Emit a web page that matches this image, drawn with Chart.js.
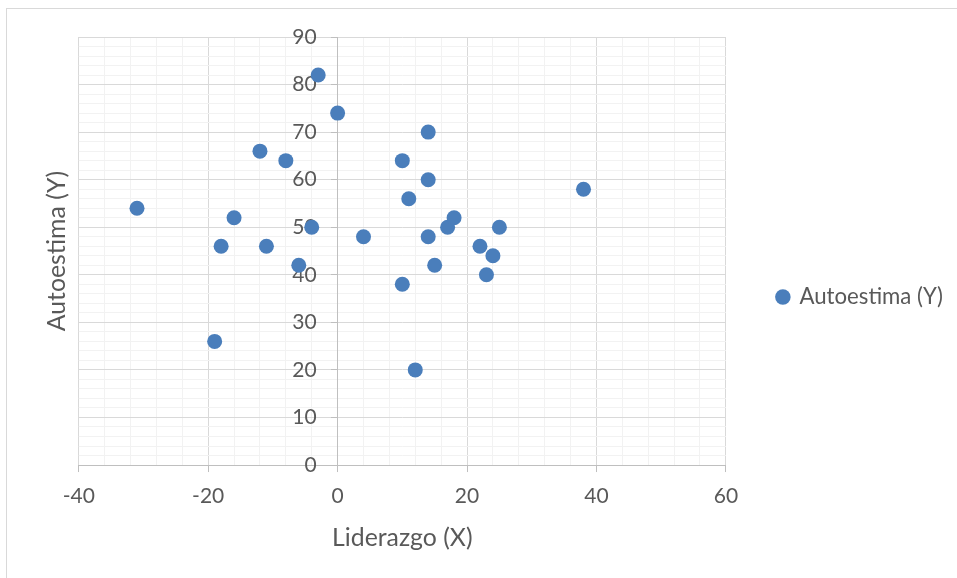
<!DOCTYPE html>
<html><head><meta charset="utf-8">
<script src="https://cdn.jsdelivr.net/npm/chart.js@4"></script>
<style>
html,body{margin:0;padding:0;background:#fff;}
#wrap{position:relative;width:957px;height:578px;overflow:hidden;}
#frame{position:absolute;left:6px;top:8px;width:980px;height:600px;border:1px solid #d9d9d9;box-sizing:border-box;}
canvas{position:absolute;left:0;top:0;}
</style></head><body>
<div id="wrap"><div id="frame"></div><canvas id="c" width="957" height="578"></canvas></div>
<script>
// Data
const liderazgoX  = [-31, -19, -18, -16, -12, -11, -8, -6, -4, -3, 0, 4, 10, 10, 11, 12, 14, 14, 14, 15, 17, 18, 22, 23, 24, 25, 38];
const autoestimaY = [ 54,  26,  46,  52,  66,  46, 64, 42, 50, 82, 74, 48, 64, 38, 56, 20, 70, 60, 48, 42, 50, 52, 46, 40, 44, 50, 58];
const seriesName = 'Autoestima (Y)';
const xTitle = 'Liderazgo (X)';
const yTitle = 'Autoestima (Y)';
const xRange = [-40, 60];
const yRange = [0, 90];
const xMajor = 20, xMinor = 4;
const yMajor = 10, yMinor = 2;

const points = liderazgoX.map((x, i) => ({x: x, y: autoestimaY[i]}));
const TXT = '#595959', MAJ = '#d9d9d9', MIN = '#f2f2f2', AX = '#bfbfbf', BLUE = '#4a7ebb';
const FONT = 'Lato';
const isMajor = (c, step) => c.tick && Math.abs(c.tick.value % step) < 1e-9;

new Chart(document.getElementById('c'), {
  type: 'scatter',
  data: {
    datasets: [{
      label: seriesName,
      data: points,
      backgroundColor: BLUE,
      borderColor: BLUE,
      pointRadius: 7.5,
      pointHoverRadius: 7.5,
      pointBorderWidth: 0,
      pointStyle: 'circle'
    }]
  },
  options: {
    responsive: false,
    animation: false,
    devicePixelRatio: 1,
    layout: {padding: {left: 41, right: 4, top: 37, bottom: 21}},
    plugins: {
      tooltip: {enabled: false},
      legend: {
        position: 'right',
        maxWidth: 300,
        labels: {
          usePointStyle: true,
          boxWidth: 11, boxHeight: 11,
          padding: 51.5,
          color: TXT,
          font: {family: FONT, size: 22.2}
        }
      }
    },
    scales: {
      x: {
        type: 'linear', position: 'bottom',
        min: xRange[0], max: xRange[1],
        ticks: {
          stepSize: xMinor, autoSkip: false, maxRotation: 0,
          callback: v => (v % xMajor === 0 ? String(v) : ''),
          color: TXT, font: {family: FONT, size: 21}, padding: 12
        },
        grid: {
          color: c => (isMajor(c, xMajor) ? MAJ : MIN),
          tickColor: c => (isMajor(c, xMajor) ? AX : 'rgba(0,0,0,0)'),
          tickLength: 7, lineWidth: 1
        },
        border: {color: AX, width: 1},
        title: {display: true, text: xTitle, color: TXT, font: {family: FONT, size: 24.8}, padding: {top: 2, bottom: 4}}
      },
      y: {
        type: 'linear', position: {x: 0},
        min: yRange[0], max: yRange[1],
        ticks: {display: false, stepSize: yMinor, autoSkip: false},
        grid: {
          color: c => (isMajor(c, yMajor) ? MAJ : MIN),
          tickColor: c => (isMajor(c, yMajor) ? AX : 'rgba(0,0,0,0)'),
          tickLength: 6, lineWidth: 1
        },
        border: {color: AX, width: 1}
      },
      yLabels: {
        type: 'linear', axis: 'y', position: {x: -3.25},
        min: yRange[0], max: yRange[1],
        ticks: {
          stepSize: yMajor, autoSkip: false,
          color: TXT, font: {family: FONT, size: 21}
        },
        grid: {display: false, drawTicks: false},
        border: {display: false}
      },
      yTitleAxis: {
        type: 'linear', position: 'left', axis: 'y',
        min: yRange[0], max: yRange[1],
        ticks: {display: false},
        grid: {display: false, drawTicks: false},
        border: {display: false},
        title: {display: true, text: yTitle, color: TXT, font: {family: FONT, size: 24.8}, padding: {top: 1, bottom: 7}}
      }
    }
  }
});
</script>
</body></html>
